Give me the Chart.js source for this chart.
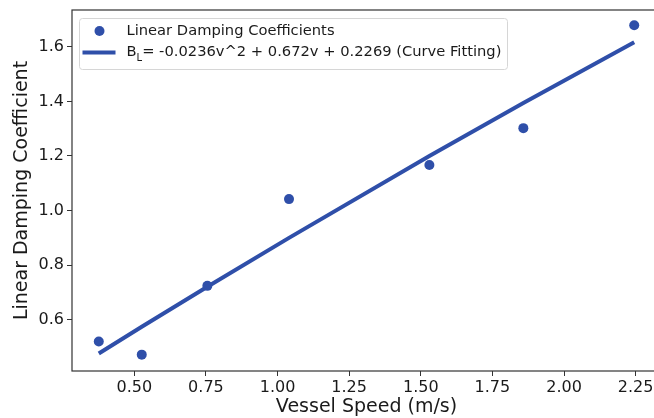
<!DOCTYPE html>
<html>
<head>
<meta charset="utf-8">
<script src="https://cdn.jsdelivr.net/npm/chart.js@4/dist/chart.umd.min.js"></script>
<style>
  html, body { margin: 0; padding: 0; background: #fff; overflow: hidden; }
  #wrap { position: relative; width: 654px; height: 418px; }
</style>
</head>
<body>
<div id="wrap"><canvas id="c"></canvas></div>
<script>
// Data
const speeds = [0.376, 0.526, 0.755, 1.04, 1.53, 1.858, 2.245];
const dampingCoeffs = [0.520, 0.472, 0.724, 1.042, 1.167, 1.302, 1.679];
const fittedCoeffs = [0.476, 0.574, 0.721, 0.900, 1.200, 1.394, 1.617];
const xTicks = [0.50, 0.75, 1.00, 1.25, 1.50, 1.75, 2.00, 2.25];
const yTicks = [0.6, 0.8, 1.0, 1.2, 1.4, 1.6];
const legendLabels = ['Linear Damping Coefficients', '= -0.0236v^2 + 0.672v + 0.2269 (Curve Fitting)'];

const BLUE = '#2f4fa9';
const FONT = "'DejaVu Sans', sans-serif";
const PLOT_RIGHT = 661; // plot frame continues past the picture's right edge

const extendPlugin = {
  id: 'extendRight',
  afterLayout(chart) {
    const a = chart.chartArea;
    a.right = PLOT_RIGHT;
    a.width = a.right - a.left;
    const xs = chart.scales.x;
    xs.right = PLOT_RIGHT;
    xs.width = xs.right - xs.left;
    xs.configure();
  }
};

const framePlugin = {
  id: 'frame',
  afterDatasetsDraw(chart) {
    const { ctx, chartArea: a } = chart;
    ctx.save();
    ctx.strokeStyle = '#333';
    ctx.lineWidth = 1.2;
    ctx.strokeRect(a.left, a.top, a.right - a.left, a.bottom - a.top);
    ctx.restore();
  }
};

const legendPlugin = {
  id: 'mplLegend',
  afterDraw(chart) {
    const ctx = chart.ctx;
    const a = chart.chartArea;
    const x0 = a.left + 7.5, y0 = a.top + 8.5, w = 428, h = 51, r = 3;
    ctx.save();
    ctx.beginPath();
    ctx.moveTo(x0 + r, y0);
    ctx.lineTo(x0 + w - r, y0); ctx.arcTo(x0 + w, y0, x0 + w, y0 + r, r);
    ctx.lineTo(x0 + w, y0 + h - r); ctx.arcTo(x0 + w, y0 + h, x0 + w - r, y0 + h, r);
    ctx.lineTo(x0 + r, y0 + h); ctx.arcTo(x0, y0 + h, x0, y0 + h - r, r);
    ctx.lineTo(x0, y0 + r); ctx.arcTo(x0, y0, x0 + r, y0, r);
    ctx.closePath();
    ctx.fillStyle = 'rgba(255,255,255,0.85)';
    ctx.fill();
    ctx.strokeStyle = '#d6d6d6';
    ctx.lineWidth = 1;
    ctx.stroke();

    const row1 = y0 + 12.5, row2 = y0 + 34;
    ctx.fillStyle = BLUE;
    ctx.beginPath();
    ctx.arc(x0 + 20, row1, 5, 0, Math.PI * 2);
    ctx.fill();
    ctx.strokeStyle = BLUE;
    ctx.lineWidth = 4;
    ctx.beginPath();
    ctx.moveTo(x0 + 3, row2); ctx.lineTo(x0 + 36, row2);
    ctx.stroke();

    ctx.fillStyle = '#1a1a1a';
    ctx.textBaseline = 'middle';
    ctx.font = '14.7px ' + FONT;
    const tx = x0 + 47;
    ctx.fillText(legendLabels[0], tx, row1);
    ctx.fillText('B', tx, row2);
    const bw = ctx.measureText('B').width;
    ctx.font = '10px ' + FONT;
    ctx.fillText('L', tx + bw, row2 + 5.5);
    const lw = ctx.measureText('L').width;
    ctx.font = '14.7px ' + FONT;
    ctx.fillText(legendLabels[1], tx + bw + lw, row2);
    ctx.restore();
  }
};

new Chart(document.getElementById('c'), {
  type: 'scatter',
  data: {
    datasets: [
      {
        label: legendLabels[0],
        data: speeds.map((v, i) => ({ x: v, y: dampingCoeffs[i] })),
        backgroundColor: BLUE,
        borderColor: BLUE,
        pointRadius: 5,
        pointBorderWidth: 0,
        showLine: false
      },
      {
        label: 'B_L' + legendLabels[1],
        data: speeds.map((v, i) => ({ x: v, y: fittedCoeffs[i] })),
        borderColor: BLUE,
        backgroundColor: BLUE,
        borderWidth: 4,
        pointRadius: 0,
        showLine: true,
        tension: 0
      }
    ]
  },
  options: {
    responsive: true,
    maintainAspectRatio: false,
    animation: false,
    devicePixelRatio: 1,
    layout: { autoPadding: false, padding: { top: 10, right: 0, left: 0, bottom: 0 } },
    plugins: { legend: { display: false }, tooltip: { enabled: false } },
    scales: {
      x: {
        type: 'linear',
        min: 0.2825,
        max: 2.3385,
        afterFit(s) { s.height = 47; s.paddingLeft = 0; s.paddingRight = 0; },
        afterBuildTicks(s) { s.ticks = xTicks.map(v => ({ value: v })); },
        ticks: {
          color: '#1a1a1a',
          font: { family: FONT, size: 16 },
          padding: 2,
          maxRotation: 0,
          callback: v => v.toFixed(2)
        },
        grid: { drawOnChartArea: false, drawTicks: true, tickLength: 5, color: '#333', tickWidth: 1 },
        border: { display: false },
        title: {
          display: true,
          text: 'Vessel Speed (m/s)',
          color: '#1a1a1a',
          font: { family: FONT, size: 19 },
          padding: { top: 0, bottom: 0 }
        }
      },
      y: {
        type: 'linear',
        min: 0.412,
        max: 1.735,
        afterFit(s) { s.width = 72; s.paddingTop = 0; s.paddingBottom = 0; },
        afterBuildTicks(s) { s.ticks = yTicks.map(v => ({ value: v })); },
        ticks: {
          color: '#1a1a1a',
          font: { family: FONT, size: 16 },
          padding: 3,
          callback: v => v.toFixed(1)
        },
        grid: { drawOnChartArea: false, drawTicks: true, tickLength: 5, color: '#333', tickWidth: 1 },
        border: { display: false },
        title: {
          display: true,
          text: 'Linear Damping Coefficient',
          color: '#1a1a1a',
          font: { family: FONT, size: 19 },
          padding: { top: 11, bottom: 0 }
        }
      }
    }
  },
  plugins: [extendPlugin, framePlugin, legendPlugin]
});
</script>
</body>
</html>
